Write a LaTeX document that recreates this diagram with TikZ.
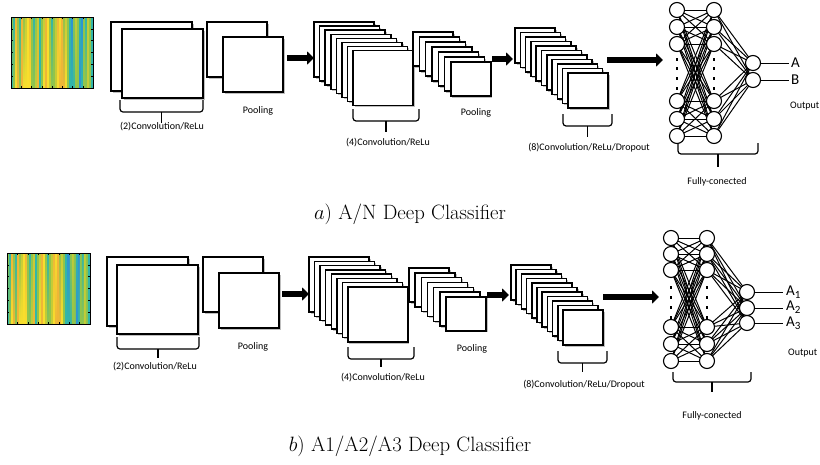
\documentclass[tikz,border=0pt]{standalone}
\usepackage{fontspec}
\newfontfamily\calfont{Carlito}
\usetikzlibrary{arrows.meta}
\pgfdeclarelayer{bg}
\pgfdeclarelayer{paper}
\pgfsetlayers{paper,bg,main}
\definecolor{cY}{RGB}{248,222,45}
\definecolor{cO}{RGB}{238,182,55}
\definecolor{cG}{RGB}{145,196,75}
\definecolor{cT}{RGB}{50,182,168}
\definecolor{cB}{RGB}{45,145,215}
\definecolor{cL}{RGB}{196,204,55}
\tikzset{
  fm/.style={draw=black, fill=white, line width=1.5pt},
  fmshadow/.style={fill=gray!50},
  neuron/.style={circle, draw=black, fill=white, line width=1.1pt, minimum size=15pt, inner sep=0pt},
  link/.style={line width=1pt},
  bigarrow/.style={line width=5.5pt, -{Triangle[width=13pt,length=7pt]}},
  brk/.style={line width=1.2pt, rounded corners=3pt},
  lbl/.style={font=\calfont\fontsize{10}{12}\selectfont, inner sep=0pt},
  outlbl/.style={font=\calfont\fontsize{15}{16}\selectfont, inner sep=0pt, anchor=west},
  capt/.style={font=\fontsize{20.74}{24}\selectfont, inner sep=0pt},
  fcdot/.style={fill=black},
}
% x y w h dx dy n
\newcommand\fmstack[7]{%
  \foreach \i in {1,...,#7}{%
    \pgfmathsetmacro\xx{#1+(\i-1)*#5}%
    \pgfmathsetmacro\yy{#2+(\i-1)*#6}%
    \fill[fmshadow] (\xx+1.5,\yy+1.5) rectangle ++(#3,#4);
    \draw[fm] (\xx,\yy) rectangle ++(#3,#4);
  }}
% x1 x2 ytop yline ystem
\newcommand\fmbrace[5]{%
  \draw[brk] (#1,#3) -- (#1,#4) -- (#2,#4) -- (#2,#3);
  \draw[line width=1.2pt] ({(#1+#2)/2},#4) -- ({(#1+#2)/2},#5);}
% x y w h
\newcommand\specimg[4]{%
  \foreach \ca/\cb [count=\k] in {cG/cT,cT/cG,cO/cY,cG/cO,cT/cG,cO/cO,cG/cY,cL/cY,cY/cY,cO/cY,cG/cG,cT/cG,cG/cL,cL/cO,cT/cT,cG/cG,cL/cY,cO/cO,cY/cY,cG/cL,cT/cG,cG/cG,cL/cL,cO/cY,cY/cO,cO/cO,cG/cO,cL/cY,cG/cG,cT/cT,cB/cT,cG/cT,cL/cG,cG/cG,cT/cB,cB/cT,cG/cG,cT/cG,cL/cL,cG/cG,cT/cT}{%
    \pgfmathsetmacro\sx{#1+(\k-1)*#3/41}%
    \shade[top color=\ca, bottom color=\cb] (\sx,#2) rectangle ++({#3/41+0.3},#4);
  }
  \draw[line width=0.8pt] (#1,#2) rectangle ++(#3,#4);
  \foreach \t in {1,...,7}{%
    \draw[line width=0.5pt] ({#1+\t*#3/8},#2) -- ++(0,2);
    \draw[line width=0.5pt] ({#1+\t*#3/8},{#2+#4}) -- ++(0,-2);}
  \foreach \t in {1,...,5}{%
    \draw[line width=0.5pt] (#1,{#2+\t*#4/6}) -- ++(2,0);
    \draw[line width=0.5pt] ({#1+#3},{#2+\t*#4/6}) -- ++(-2,0);}
}
\begin{document}
\begin{tikzpicture}[x=1pt,y=-1pt]
\useasboundingbox (0,0) rectangle (820,464);
\begin{pgfonlayer}{paper}
\fill[white] (0,0) rectangle (820,464);
\end{pgfonlayer}

% ================= TOP PANEL =================
\specimg{11}{17}{82}{71}
\fmstack{111}{22}{81}{69}{11}{7}{2}
\fmstack{207}{22}{60}{55}{16}{15}{2}
\fmstack{314}{22}{60}{55}{5.6}{4.1}{8}
\fmstack{413}{32}{40}{34}{6.33}{5}{7}
\fmstack{515}{28}{40}{35}{5.3}{4.5}{11}

\coordinate (ta1s) at (287,58); \coordinate (ta1e) at (314,58);
\coordinate (ta2s) at (492,59); \coordinate (ta2e) at (513,59);
\coordinate (ta3s) at (607,60); \coordinate (ta3e) at (663,60);
\draw[bigarrow] (ta1s) -- (ta1e);
\draw[bigarrow] (ta2s) -- (ta2e);
\draw[bigarrow] (ta3s) -- (ta3e);

\fmbrace{120}{203}{100}{112}{123}
\node[lbl] (tl1) at (162,127) {(2)Convolution/ReLu};
\node[lbl] (tl2) at (258,111) {Pooling};
\fmbrace{353}{419}{109}{121}{132}
\node[lbl] (tl3) at (388,143) {(4)Convolution/ReLu};
\node[lbl] (tl4) at (476,113) {Pooling};
\fmbrace{563}{612}{114}{126}{137}
\node[lbl] (tl5) at (589,148) {(8)Convolution/ReLu/Dropout};
\fmbrace{678}{758}{143}{154}{167}
\node[lbl] (tl6) at (717,182) {Fully-conected};
\node[lbl, anchor=west] (tl7) at (790,106) {Output};

\foreach \yy [count=\k] in {10,27,44,101,119,136}{%
  \node[neuron] (ta\k) at (677,\yy) {};
  \node[neuron] (tb\k) at (714,\yy) {};}
\node[neuron] (tc1) at (753,63) {};
\node[neuron] (tc2) at (753,80) {};
\begin{pgfonlayer}{bg}
\foreach \i in {1,...,6}{\foreach \j in {1,...,6}{\draw[link] (ta\i.center) -- (tb\j.center);}}
\foreach \i in {1,...,6}{\foreach \j in {1,2}{\draw[link] (tb\i.center) -- (tc\j.center);}}
\end{pgfonlayer}
\foreach \yy in {58,67,77,87}{%
  \fill[fcdot] (676,\yy) rectangle ++(2.2,2.6);
  \fill[fcdot] (713,\yy) rectangle ++(2.2,2.6);}
\coordinate (tc1e) at (789,63); \coordinate (tc2e) at (789,80);
\draw[link] (tc1) -- (tc1e); \draw[link] (tc2) -- (tc2e);
\node[outlbl] (tA) at (791,63) {A};
\node[outlbl] (tB) at (791,80) {B};

\node[capt] (capa) at (410,214) {$a)$ A/N Deep Classifier};

% ================= BOTTOM PANEL =================
\specimg{7}{253}{83}{71}
\fmstack{107}{257}{81}{69}{10}{8}{2}
\fmstack{203}{257}{60}{55}{16}{16}{2}
\fmstack{309}{257}{60}{55}{5.57}{4.29}{8}
\fmstack{409}{268}{40}{34}{6.17}{4.83}{7}
\fmstack{511}{265}{40}{35}{5.2}{4.5}{11}

\coordinate (ba1s) at (282,294); \coordinate (ba1e) at (309,294);
\coordinate (ba2s) at (487,295); \coordinate (ba2e) at (509,295);
\coordinate (ba3s) at (603,297); \coordinate (ba3e) at (659,297);
\draw[bigarrow] (ba1s) -- (ba1e);
\draw[bigarrow] (ba2s) -- (ba2e);
\draw[bigarrow] (ba3s) -- (ba3e);

\fmbrace{117}{199}{337}{349}{358}
\node[lbl] (bl1) at (155,367) {(2)Convolution/ReLu};
\node[lbl] (bl2) at (253,347) {Pooling};
\fmbrace{348}{414}{347}{359}{367}
\node[lbl] (bl3) at (383,378) {(4)Convolution/ReLu};
\node[lbl] (bl4) at (472,349) {Pooling};
\fmbrace{558}{607}{351}{363}{372}
\node[lbl] (bl5) at (584,385) {(8)Convolution/ReLu/Dropout};
\fmbrace{673}{751}{372}{382}{392}
\node[lbl] (bl6) at (712,416) {Fully-conected};
\node[lbl, anchor=west] (bl7) at (788,353) {Output};

\foreach \yy [count=\k] in {238,254,270,327,344,361}{%
  \node[neuron] (ba\k) at (671,\yy) {};
  \node[neuron] (bb\k) at (707,\yy) {};}
\node[neuron] (bc1) at (747,292) {};
\node[neuron] (bc2) at (747,308) {};
\node[neuron] (bc3) at (747,323) {};
\begin{pgfonlayer}{bg}
\foreach \i in {1,...,6}{\foreach \j in {1,...,6}{\draw[link] (ba\i.center) -- (bb\j.center);}}
\foreach \i in {1,...,6}{\foreach \j in {1,2,3}{\draw[link] (bb\i.center) -- (bc\j.center);}}
\end{pgfonlayer}
\foreach \yy in {286,296,306,316}{%
  \fill[fcdot] (670,\yy) rectangle ++(2.2,2.6);
  \fill[fcdot] (706,\yy) rectangle ++(2.2,2.6);}
\coordinate (bc1e) at (783,292); \coordinate (bc2e) at (783,308); \coordinate (bc3e) at (783,323);
\draw[link] (bc1) -- (bc1e); \draw[link] (bc2) -- (bc2e); \draw[link] (bc3) -- (bc3e);
\node[outlbl] (bA1) at (786,292) {A\raisebox{-0.35ex}{\fontsize{11}{11}\selectfont 1}};
\node[outlbl] (bA2) at (786,307) {A\raisebox{-0.35ex}{\fontsize{11}{11}\selectfont 2}};
\node[outlbl] (bA3) at (786,323) {A\raisebox{-0.35ex}{\fontsize{11}{11}\selectfont 3}};

\node[capt] (capb) at (410,446) {$b)$ A1/A2/A3 Deep Classifier};
\end{tikzpicture}
\end{document}
